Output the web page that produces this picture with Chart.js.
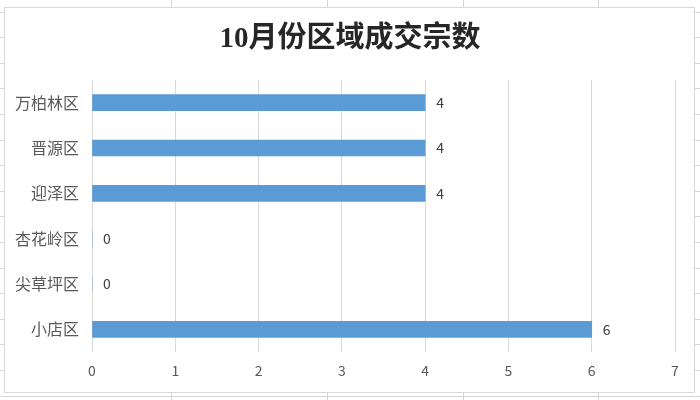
<!DOCTYPE html>
<html>
<head>
<meta charset="utf-8">
<script src="https://cdn.jsdelivr.net/npm/chart.js@4"></script>
<style>
  html, body { margin: 0; padding: 0; width: 700px; height: 400px; overflow: hidden; }
  body {
    position: relative;
    background-color: #ffffff;
    background-image:
      linear-gradient(to right, transparent 171px, #d6d6d6 171px, #d6d6d6 172px, transparent 172px),
      linear-gradient(to right, transparent 327px, #d6d6d6 327px, #d6d6d6 328px, transparent 328px),
      linear-gradient(to right, transparent 463px, #d6d6d6 463px, #d6d6d6 464px, transparent 464px),
      linear-gradient(to right, transparent 598px, #d6d6d6 598px, #d6d6d6 599px, transparent 599px),
      repeating-linear-gradient(to bottom, transparent 0px, transparent 11.6px, #d6d6d6 11.6px, #d6d6d6 12.6px, transparent 12.6px, transparent 25.6px);
  }
  #frame {
    position: absolute; left: 4px; top: 7px; width: 689px; height: 384px;
    background: #ffffff; border: 1px solid #d9d9d9;
  }
  #wrap { position: absolute; left: 0; top: 0; width: 700px; height: 400px; }
</style>
</head>
<body>
<div id="frame"></div>
<div id="wrap"><canvas id="c" width="700" height="400"></canvas></div>
<script>
const titleText = "10月份区域成交宗数";
const categories = ["万柏林区", "晋源区", "迎泽区", "杏花岭区", "尖草坪区", "小店区"];
const values = [4, 4, 4, 0, 0, 6];
const xMin = 0;
const xMax = 7;
const xStep = 1;

const valueLabels = {
  id: 'valueLabels',
  afterDatasetsDraw(chart) {
    const ctx = chart.ctx;
    const meta = chart.getDatasetMeta(0);
    ctx.save();
    ctx.font = '14px "Noto Sans CJK SC", "Open Sans", sans-serif';
    ctx.fillStyle = '#404040';
    ctx.textAlign = 'left';
    ctx.textBaseline = 'middle';
    meta.data.forEach((bar, i) => {
      const v = chart.data.datasets[0].data[i];
      ctx.fillText(String(v), bar.x + 11, bar.y);
    });
    ctx.restore();
  }
};

const centeredTitle = {
  id: 'centeredTitle',
  afterDraw(chart) {
    const ctx = chart.ctx;
    ctx.save();
    ctx.font = 'bold 29px "Liberation Serif", "Noto Sans CJK SC", serif';
    ctx.fillStyle = '#262626';
    ctx.textAlign = 'center';
    ctx.textBaseline = 'middle';
    ctx.fillText(titleText, chart.width / 2, 40);
    ctx.restore();
  }
};

new Chart(document.getElementById('c'), {
  type: 'bar',
  data: {
    labels: categories,
    datasets: [{
      data: values,
      backgroundColor: '#5B9BD5',
      borderWidth: 0,
      barThickness: 16
    }]
  },
  plugins: [valueLabels, centeredTitle],
  options: {
    indexAxis: 'y',
    responsive: false,
    animation: false,
    devicePixelRatio: 1,
    layout: { padding: { left: 0, right: 25, top: 80, bottom: 0 } },
    plugins: {
      legend: { display: false },
      tooltip: { enabled: false },
      title: { display: false }
    },
    scales: {
      x: {
        min: xMin,
        max: xMax,
        ticks: {
          stepSize: xStep,
          color: '#595959',
          padding: 10,
          font: { family: '"Noto Sans CJK SC", "Open Sans", sans-serif', size: 14 }
        },
        grid: { color: '#d9d9d9', lineWidth: 1, drawTicks: false },
        border: { display: false },
        afterFit(scale) { scale.height = 48; }
      },
      y: {
        ticks: {
          color: '#595959',
          padding: 13,
          font: { family: '"Noto Sans CJK SC", sans-serif', size: 16 }
        },
        grid: { display: false, drawTicks: false },
        border: { display: false },
        afterFit(scale) { scale.width = 92; }
      }
    }
  }
});
</script>
</body>
</html>
